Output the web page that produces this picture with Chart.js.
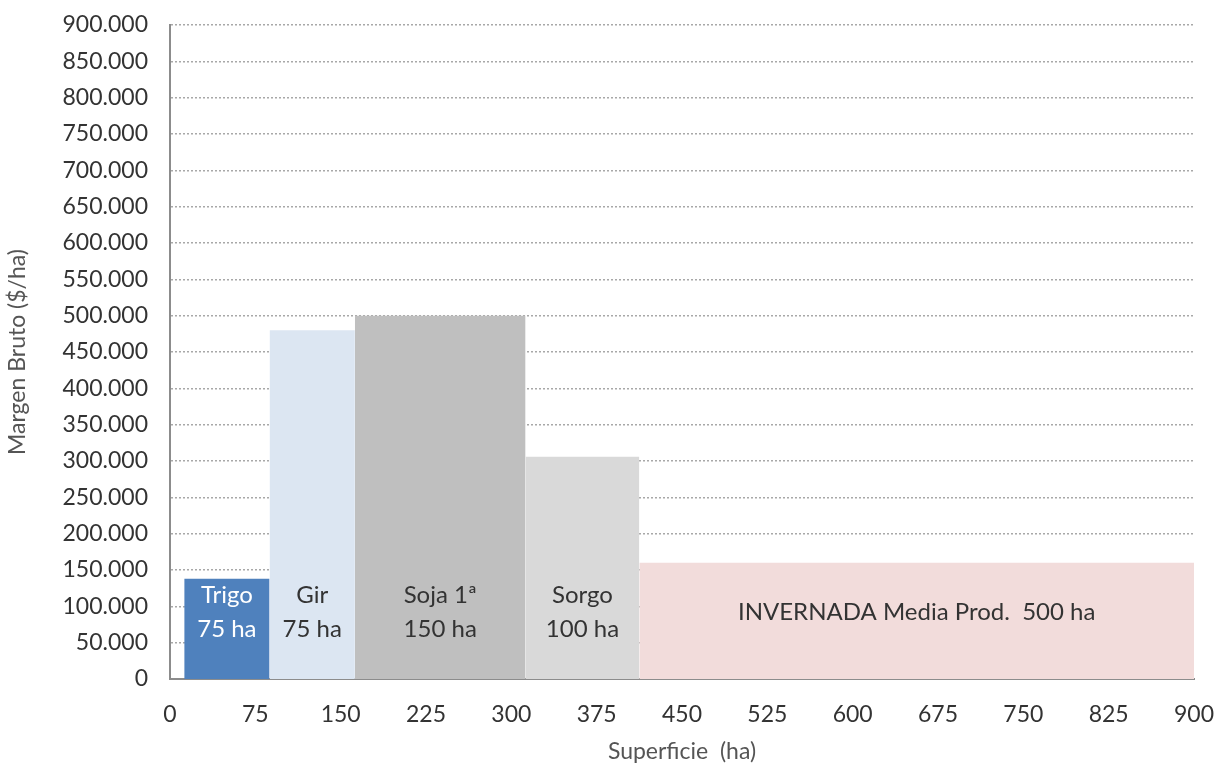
<!DOCTYPE html>
<html>
<head>
<meta charset="utf-8">
<script src="https://cdn.jsdelivr.net/npm/chart.js@4"></script>
<style>
  body { margin: 0; background: #fff; }
  #wrap { width: 1215px; height: 769px; }
</style>
</head>
<body>
<div id="wrap"><canvas id="graph"></canvas></div>
<script>
// cultivos y superficie
const crops = ['Trigo', 'Gir', 'Soja 1ª', 'Sorgo', 'INVERNADA Media Prod.'];
const hectares = [75, 75, 150, 100, 500];
// bordes sobre el eje de superficie (ha)
const xEdges = [12.5, 87.5, 162.5, 312.5, 412.5, 900];
// margen bruto ($/ha)
const margins = [138000, 480000, 500000, 306000, 160000];
const colors = ['#4f81bd', '#dce6f2', '#bfbfbf', '#d9d9d9', '#f2dcdb'];
const textColors = ['#ffffff', '#333333', '#333333', '#333333', '#333333'];

const FONT = 'Lato, "DejaVu Sans", sans-serif';

const datasets = crops.map((c, i) => ({
  label: c,
  data: [{ x: xEdges[i], y: margins[i] }, { x: xEdges[i + 1], y: margins[i] }],
  fill: 'origin',
  backgroundColor: colors[i],
  borderWidth: 0,
  pointRadius: 0,
  tension: 0
}));

const fmt = v => String(v).replace(/\B(?=(\d{3})+(?!\d))/g, '.');

const barLabels = {
  id: 'barLabels',
  afterDatasetsDraw (chart) {
    const { ctx, scales: { x, y } } = chart;
    ctx.save();
    ctx.font = '24px ' + FONT;
    ctx.textAlign = 'center';
    ctx.textBaseline = 'middle';
    crops.forEach((c, i) => {
      const cx = (x.getPixelForValue(xEdges[i]) + x.getPixelForValue(xEdges[i + 1])) / 2;
      const cy = y.getPixelForValue(92000);
      ctx.fillStyle = textColors[i];
      if (i === crops.length - 1) {
        ctx.fillText(c + '  ' + hectares[i] + ' ha', cx, cy);
      } else {
        ctx.fillText(c, cx, cy - 17);
        ctx.fillText(hectares[i] + ' ha', cx, cy + 17);
      }
    });
    ctx.restore();
  }
};

const ctx = document.getElementById('graph').getContext('2d');
new Chart(ctx, {
  type: 'line',
  data: { datasets: datasets },
  options: {
    responsive: true,
    maintainAspectRatio: false,
    animation: false,
    layout: { padding: { top: 25, right: 21, left: 0, bottom: 0 } },
    plugins: {
      legend: { display: false },
      tooltip: { enabled: false }
    },
    scales: {
      x: {
        type: 'linear',
        min: 0,
        max: 900,
        z: 1,
        afterFit: s => { s.height = 90; s.paddingRight = 0; s.paddingLeft = 0; },
        ticks: {
          stepSize: 75,
          color: '#333',
          padding: 22,
          font: { family: FONT, size: 23 }
        },
        grid: { display: false, drawTicks: false },
        border: { display: true, color: '#8c8c8c', width: 2 },
        title: {
          display: true,
          text: 'Superficie  (ha)',
          color: '#555',
          padding: { top: 18 },
          font: { family: FONT, size: 23 }
        }
      },
      y: {
        min: 0,
        max: 900000,
        afterFit: s => { s.width = 170; s.paddingTop = 0; s.paddingBottom = 0; },
        ticks: {
          stepSize: 50000,
          color: '#333',
          padding: 22,
          font: { family: FONT, size: 23 },
          callback: v => fmt(v)
        },
        grid: {
          color: '#a8a8a8',
          lineWidth: 1.5,
          drawTicks: false
        },
        border: { display: true, color: '#8c8c8c', width: 2, dash: [2, 2] },
        title: {
          display: true,
          text: 'Margen Bruto ($/ha)',
          color: '#555',
          padding: { bottom: 0 },
          font: { family: FONT, size: 23 }
        }
      }
    }
  },
  plugins: [barLabels]
});
</script>
</body>
</html>
